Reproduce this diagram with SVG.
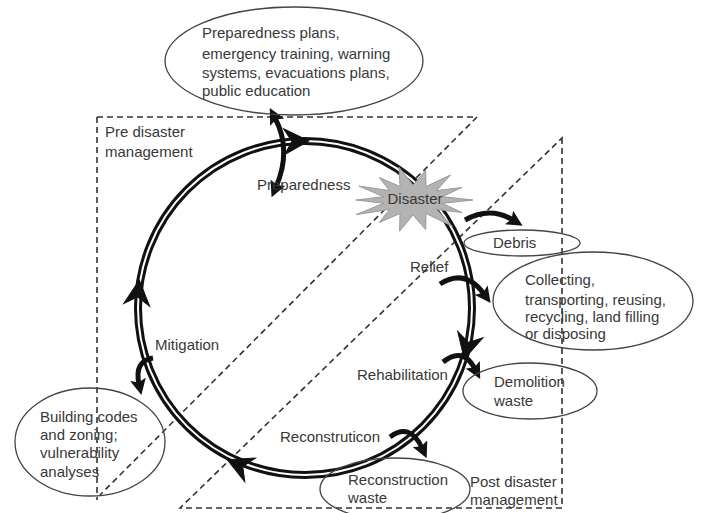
<svg xmlns="http://www.w3.org/2000/svg" width="701" height="513" viewBox="0 0 701 513">
<style>
.t{font-family:"Liberation Sans",Arial,sans-serif;font-size:15px;fill:#383838}
.d{fill:none;stroke:#333;stroke-width:1.6;stroke-dasharray:6 4}
.e{fill:none;stroke:#444;stroke-width:1.3}
.ca{fill:none;stroke:#111;stroke-width:5;marker-end:url(#ah)}
.ah{fill:#111;stroke:#111;stroke-width:1}
</style>
<defs>
<marker id="ah" viewBox="0 0 10 10" refX="3" refY="5" markerWidth="3.2" markerHeight="3.2" orient="auto-start-reverse"><path d="M0,0 L10,5 L0,10 L2,5 Z" fill="#111"/></marker>
<path id="head" d="M3,0 L-22,-13 L-14,0 L-22,13 Z"/>
</defs>
<rect width="701" height="513" fill="#fff"/>
<g id="regions">
<path class="d" d="M97,117 H477 L100,495 M97,117 V500"/>
<path class="d" d="M562,138 V508 H180 Z"/>
</g>
<g id="cycle">
<circle cx="305" cy="308" r="167" fill="none" stroke="#111" stroke-width="8"/>
<circle cx="305" cy="308" r="167" fill="none" stroke="#fff" stroke-width="2"/>
<use href="#head" class="ah" transform="translate(306,141) rotate(-2)"/>
<use href="#head" class="ah" transform="translate(465,356) rotate(104)"/>
<use href="#head" class="ah" transform="translate(230,461) rotate(204)"/>
<use href="#head" class="ah" transform="translate(139,283) rotate(276)"/>
</g>
<g id="disaster">
<polygon points="473,200 442.3,203.3 461.7,212.5 436.5,209.4 452.3,226.3 426,213.5 425.7,229.6 413,215 399.6,231.2 400,213.5 379.3,222.5 389.5,209.4 356.2,214.6 383.7,203.3 356,200 383.7,196.7 358.9,186.1 389.5,190.6 379.3,177.5 400,186.5 399,167.2 413,185 425.7,170.4 426,186.5 450.4,175 436.5,190.6 461.7,187.5 442.3,196.7" fill="#b3b3b3" stroke="#999" stroke-width="1"/>
<text class="t" x="415" y="204" text-anchor="middle">Disaster</text>
</g>
<g id="connectors">
<path class="ca" d="M275,118 Q292,150 276,187" marker-start="url(#ah)"/>
<path class="ca" d="M465,220 Q490,206 513,220"/>
<path class="ca" d="M440,284 Q465,268 484,294"/>
<path class="ca" d="M443,362 Q463,346 475,369"/>
<path class="ca" d="M390,437 Q410,422 422,448"/>
<path class="ca" d="M153,358 Q134,361 139,384"/>
</g>
<g id="top-box">
<ellipse class="e" cx="294" cy="61" rx="129" ry="54"/>
<text class="t" x="202" y="38">Preparedness plans,</text>
<text class="t" x="202" y="59">emergency training, warning</text>
<text class="t" x="202" y="78">systems, evacuations plans,</text>
<text class="t" x="202" y="96">public education</text>
</g>
<g id="pre">
<text class="t" x="105" y="137">Pre disaster</text>
<text class="t" x="105" y="157">management</text>
</g>
<g id="preparedness"><text class="t" x="257" y="190">Preparedness</text></g>
<g id="mitigation"><text class="t" x="155" y="350">Mitigation</text></g>
<g id="relief"><text class="t" x="410" y="272">Relief</text></g>
<g id="rehabilitation"><text class="t" x="357" y="380">Rehabilitation</text></g>
<g id="reconstruction"><text class="t" x="280" y="442">Reconstruticon</text></g>
<g id="debris">
<ellipse class="e" cx="522" cy="243" rx="58" ry="13"/>
<text class="t" x="493" y="248">Debris</text>
</g>
<g id="collecting">
<ellipse class="e" cx="593" cy="301" rx="100" ry="49"/>
<text class="t" x="525" y="285">Collecting,</text>
<text class="t" x="525" y="305">transporting, reusing,</text>
<text class="t" x="525" y="322">recycling, land filling</text>
<text class="t" x="525" y="339">or disposing</text>
</g>
<g id="demolition">
<ellipse class="e" cx="530" cy="391" rx="67" ry="28"/>
<text class="t" x="494" y="387">Demolition</text>
<text class="t" x="494" y="406">waste</text>
</g>
<g id="building">
<ellipse class="e" cx="90" cy="442" rx="75" ry="54"/>
<text class="t" x="40" y="422">Building codes</text>
<text class="t" x="40" y="440">and zoning;</text>
<text class="t" x="40" y="458">vulnerability</text>
<text class="t" x="40" y="477">analyses</text>
</g>
<g id="recwaste">
<ellipse class="e" cx="395" cy="489" rx="75" ry="31"/>
<text class="t" x="348" y="485">Reconstruction</text>
<text class="t" x="348" y="503">waste</text>
</g>
<g id="post">
<text class="t" x="470" y="487">Post disaster</text>
<text class="t" x="470" y="505">management</text>
</g>
</svg>
